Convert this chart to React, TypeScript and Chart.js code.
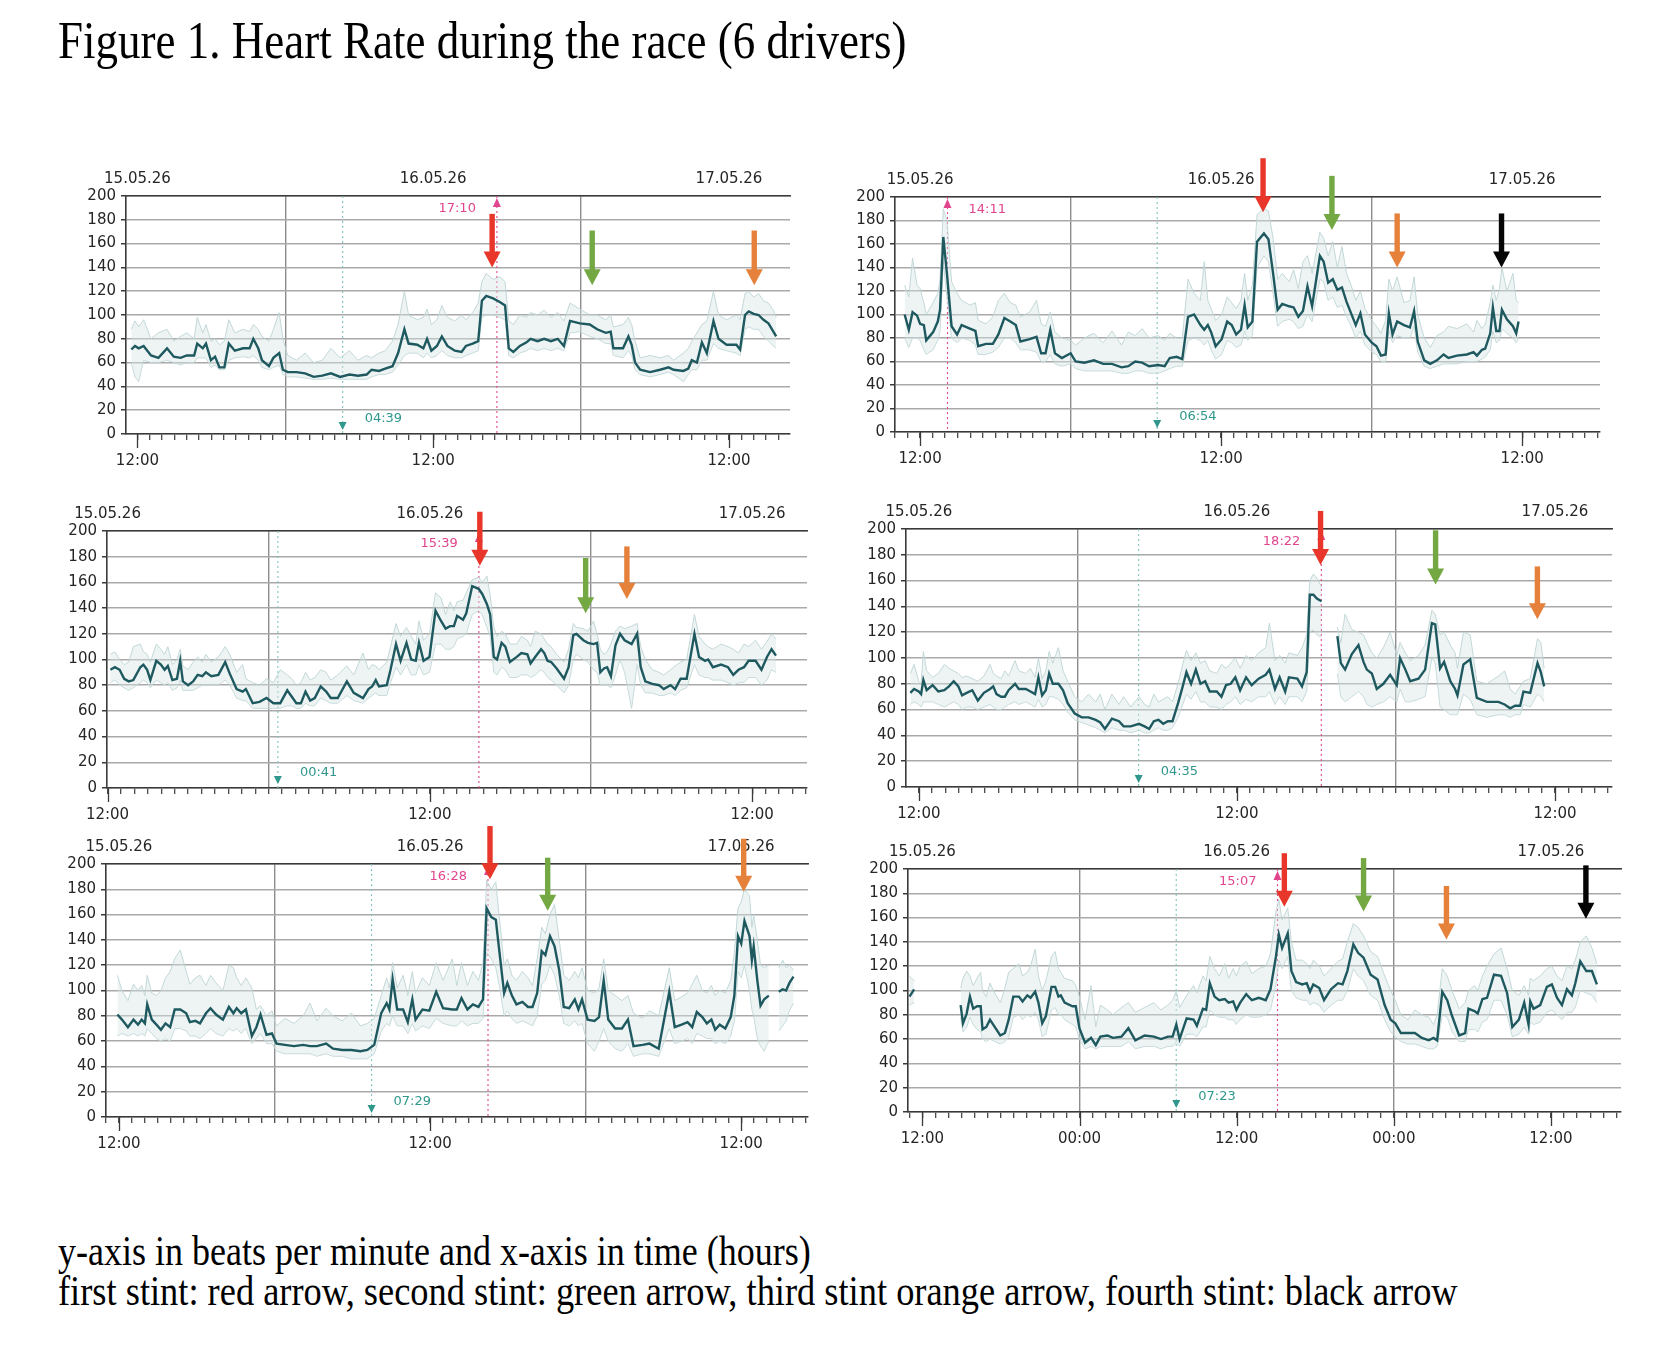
import React, { useEffect, useRef } from "react";
import { Chart, registerables } from "chart.js";
Chart.register(...registerables);

// ---------- shared labels ----------
const DATE_LABELS = ["15.05.26", "16.05.26", "17.05.26"];
const DATE_TICKS = [12, 36, 60]; // hours after 15.05.26 00:00
const NOON_LABEL = "12:00";
const MIDNIGHT_LABEL = "00:00";
const TITLE = "Figure 1. Heart Rate during the race (6 drivers)";
const CAPTION_1 = "y-axis in beats per minute and x-axis in time (hours)";
const CAPTION_2 = "first stint: red arrow, second stint: green arrow, third stint orange arrow, fourth stint: black arrow";

// ---------- panel 1 ----------
const P1_T = [11.5, 11.8, 12.1, 12.5, 13.1, 13.7, 14.4, 14.95, 15.5, 16.0, 16.6, 16.85, 17.3, 17.56, 17.96, 18.3, 18.65, 19.05, 19.41, 19.9, 20.57, 21.1, 21.4, 21.8, 22.1, 22.67, 23.03, 23.5, 23.8, 24.2, 24.9, 25.6, 26.3, 27.0, 27.7, 28.45, 29.2, 29.9, 30.6, 31.0, 31.6, 32.1, 32.7, 33.15, 33.66, 34.0, 34.7, 35.2, 35.5, 35.85, 36.3, 36.7, 37.15, 37.75, 38.3, 38.65, 39.2, 39.65, 39.95, 40.3, 40.86, 41.4, 41.83, 42.13, 42.5, 43.03, 43.57, 43.9, 44.47, 45.0, 45.55, 46.1, 46.6, 47.1, 47.9, 48.7, 49.3, 50.0, 50.4, 50.62, 51.4, 51.84, 52.1, 52.38, 52.79, 53.6, 54.4, 55.1, 55.5, 56.3, 56.7, 56.98, 57.4, 57.8, 58.2, 58.74, 59.15, 59.8, 60.6, 60.9, 61.3, 61.6, 62.0, 62.4, 62.8, 63.2, 63.6, 63.83];
const P1_HR = [71, 74, 72, 74, 66, 64, 72, 65, 64, 66, 66, 76, 72, 76, 62, 65, 56, 56, 76, 70, 72, 72, 80, 72, 62, 57, 64, 68, 54, 52, 52, 51, 48, 49, 51, 48, 50, 49, 50, 54, 53, 55, 57, 68, 88, 76, 75, 72, 80, 70, 74, 82, 74, 70, 69, 74, 76, 78, 112, 116, 114, 111, 108, 72, 69, 74, 77, 80, 78, 80, 78, 80, 74, 95, 93, 92, 88, 85, 86, 72, 72, 82, 75, 60, 54, 52, 54, 56, 54, 53, 55, 62, 60, 77, 68, 95, 80, 75, 75, 71, 100, 103, 101, 100, 96, 93, 86, 82];
const P1_LO = [60, 48, 44, 62, 60, 60, 62, 60, 58, 60, 60, 64, 64, 64, 56, 58, 54, 54, 62, 64, 65, 64, 66, 62, 56, 54, 56, 58, 50, 48, 48, 47, 46, 46, 47, 46, 46, 46, 46, 48, 50, 50, 52, 58, 66, 68, 68, 64, 68, 64, 66, 70, 66, 64, 64, 66, 68, 70, 98, 100, 100, 98, 96, 66, 64, 68, 70, 72, 70, 72, 70, 72, 70, 85, 86, 82, 80, 76, 76, 66, 64, 70, 66, 54, 50, 48, 50, 52, 50, 44, 50, 54, 54, 62, 62, 76, 72, 70, 68, 66, 88, 90, 88, 88, 82, 78, 74, 72];
const P1_HI = [88, 95, 90, 96, 80, 85, 88, 78, 82, 85, 80, 98, 85, 92, 78, 80, 75, 78, 96, 85, 88, 86, 92, 88, 82, 78, 88, 102, 80, 66, 62, 68, 60, 62, 72, 64, 70, 62, 66, 64, 68, 70, 78, 92, 120, 100, 96, 98, 105, 92, 96, 108, 98, 95, 100, 96, 102, 110, 128, 135, 130, 132, 128, 95, 92, 100, 98, 102, 100, 104, 98, 102, 95, 110, 105, 100, 100, 96, 100, 90, 92, 98, 92, 78, 64, 66, 64, 66, 62, 68, 72, 78, 85, 92, 95, 120, 100, 96, 100, 96, 118, 120, 115, 118, 112, 110, 104, 98];
const P1_ARROW_T = [40.78, 48.9, 62.05];
const P1_ARROW_FROM = [185, 171, 171];
const P1_ARROW_TO = [140, 125, 125];
const P1_ARROW_STINT = [0, 1, 2];

// ---------- panel 2 ----------
const P2_T = [10.77, 11.1, 11.4, 11.76, 12.0, 12.3, 12.49, 13.04, 13.41, 13.59, 13.85, 14.14, 14.51, 14.95, 15.31, 15.97, 16.41, 16.63, 17.25, 17.8, 18.24, 18.72, 19.19, 19.63, 20.0, 20.73, 21.28, 21.65, 22.0, 22.38, 22.75, 23.3, 24.0, 24.4, 25.1, 25.86, 26.6, 27.3, 28.06, 28.6, 29.15, 29.7, 30.25, 30.98, 31.5, 31.9, 32.45, 32.9, 33.36, 33.84, 34.35, 34.65, 34.94, 35.2, 35.56, 36.04, 36.48, 36.84, 37.2, 37.58, 37.87, 38.12, 38.49, 38.86, 39.41, 39.77, 40.14, 40.5, 40.87, 41.42, 41.78, 42.15, 42.52, 42.88, 43.25, 43.87, 44.17, 44.53, 44.9, 45.26, 45.63, 45.99, 46.36, 46.73, 47.1, 47.46, 48.01, 48.38, 48.74, 49.11, 49.37, 49.66, 50.03, 50.57, 51.05, 51.38, 51.67, 52.19, 52.67, 53.2, 53.73, 54.12, 54.79, 55.59, 56.12, 56.39, 56.79, 57.05, 57.45, 57.66, 57.93, 58.19, 58.38, 58.78, 59.26, 59.52, 59.71];
const P2_HR = [100, 87, 102, 99, 92, 91, 78, 85, 94, 104, 166, 135, 90, 83, 91, 88, 86, 73, 75, 75, 83, 97, 94, 91, 77, 79, 81, 67, 67, 87, 67, 63, 67, 60, 59, 61, 58, 58, 55, 56, 60, 59, 56, 57, 56, 63, 64, 62, 98, 100, 91, 87, 91, 85, 73, 79, 94, 91, 83, 87, 108, 89, 94, 162, 169, 164, 135, 104, 109, 107, 106, 98, 103, 124, 107, 150, 145, 127, 130, 121, 123, 111, 101, 91, 101, 83, 76, 73, 65, 66, 101, 83, 94, 91, 89, 103, 77, 61, 58, 61, 66, 63, 65, 66, 68, 65, 70, 71, 84, 106, 86, 86, 104, 96, 90, 84, 94];
const P2_LO = [80, 72, 80, 80, 78, 70, 66, 70, 78, 86, 145, 115, 80, 76, 80, 78, 74, 66, 66, 68, 72, 80, 80, 76, 70, 70, 68, 60, 60, 66, 58, 56, 58, 54, 52, 52, 52, 52, 50, 50, 52, 52, 50, 50, 52, 54, 56, 56, 78, 80, 78, 74, 78, 70, 62, 66, 78, 76, 72, 74, 86, 78, 82, 140, 150, 145, 118, 90, 94, 96, 94, 88, 90, 100, 94, 130, 128, 112, 115, 106, 108, 98, 90, 80, 86, 74, 68, 66, 60, 60, 86, 76, 82, 80, 80, 90, 68, 56, 54, 56, 58, 58, 58, 60, 60, 60, 62, 64, 70, 86, 76, 78, 88, 84, 80, 76, 80];
const P2_HI = [125, 115, 148, 125, 122, 110, 100, 110, 118, 130, 190, 180, 128, 118, 112, 108, 110, 95, 92, 98, 112, 118, 110, 108, 98, 102, 112, 92, 90, 102, 85, 80, 78, 74, 80, 84, 76, 86, 74, 85, 82, 88, 80, 82, 78, 84, 80, 80, 130, 118, 112, 145, 112, 105, 95, 100, 115, 110, 105, 112, 135, 112, 125, 185, 190, 188, 165, 130, 135, 128, 138, 122, 145, 150, 135, 170, 165, 150, 162, 140, 158, 135, 125, 112, 120, 105, 95, 90, 84, 95, 130, 120, 132, 110, 112, 132, 100, 80, 72, 82, 85, 90, 88, 92, 85, 95, 88, 92, 110, 125, 112, 122, 140, 120, 135, 112, 110];
const P2_ARROW_T = [39.34, 44.83, 50.03, 58.35];
const P2_ARROW_FROM = [233, 218, 186, 186];
const P2_ARROW_TO = [187, 172, 140, 140];
const P2_ARROW_STINT = [0, 1, 2, 3];

// ---------- panel 3 ----------
const P3_T = [12.21, 12.55, 12.9, 13.24, 13.58, 13.92, 14.44, 14.67, 14.95, 15.19, 15.63, 15.97, 16.25, 16.49, 16.83, 17.17, 17.41, 17.61, 18.0, 18.37, 18.71, 19.05, 19.32, 19.73, 20.25, 20.76, 21.1, 21.61, 22.06, 22.3, 22.81, 23.32, 23.84, 24.35, 24.86, 25.38, 25.72, 26.06, 26.4, 26.74, 27.09, 27.43, 27.87, 28.28, 28.62, 29.14, 29.82, 30.33, 31.02, 31.43, 31.7, 31.97, 32.21, 32.79, 33.07, 33.48, 33.82, 34.26, 34.61, 34.95, 35.19, 35.53, 35.97, 36.42, 36.83, 37.17, 37.51, 37.79, 38.03, 38.47, 38.71, 39.15, 39.63, 39.9, 40.25, 40.49, 40.76, 41.0, 41.34, 41.62, 41.96, 42.47, 42.81, 43.26, 43.5, 43.84, 44.28, 44.52, 44.76, 45.03, 45.44, 45.99, 46.33, 46.68, 46.91, 47.43, 47.77, 48.18, 48.45, 48.69, 48.96, 49.2, 49.48, 49.82, 50.16, 50.5, 51.02, 51.43, 51.7, 52.04, 52.56, 53.07, 53.41, 53.92, 54.26, 54.67, 55.12, 55.7, 56.04, 56.49, 56.72, 57.07, 57.68, 58.2, 58.59, 58.98, 59.39, 59.73, 60.25, 60.69, 61.1, 61.44, 61.77];
const P3_HR = [92, 94, 92, 85, 83, 84, 94, 96, 92, 84, 99, 96, 92, 95, 84, 85, 99, 83, 80, 83, 88, 87, 90, 87, 88, 98, 89, 77, 75, 77, 66, 67, 70, 66, 66, 76, 71, 66, 66, 75, 68, 70, 79, 75, 70, 70, 83, 74, 70, 77, 79, 84, 79, 80, 92, 112, 99, 113, 100, 99, 113, 99, 102, 138, 130, 124, 126, 126, 134, 131, 136, 157, 155, 151, 143, 135, 102, 100, 113, 110, 98, 102, 105, 104, 97, 102, 108, 105, 99, 98, 93, 85, 94, 119, 120, 115, 113, 112, 113, 90, 93, 94, 87, 111, 120, 115, 112, 120, 94, 83, 81, 80, 77, 80, 77, 85, 85, 120, 102, 99, 100, 94, 96, 94, 88, 92, 94, 99, 99, 92, 102, 108, 103];
const P3_LO = [82, 84, 80, 78, 76, 78, 82, 84, 82, 78, 84, 82, 80, 82, 76, 78, 84, 76, 76, 76, 78, 80, 80, 80, 80, 84, 80, 70, 68, 68, 62, 62, 62, 62, 62, 64, 64, 62, 62, 66, 64, 64, 70, 68, 66, 66, 72, 68, 66, 70, 72, 74, 72, 72, 82, 94, 88, 96, 88, 88, 96, 88, 90, 112, 112, 108, 108, 110, 116, 118, 120, 135, 138, 135, 125, 118, 90, 88, 94, 92, 86, 86, 88, 88, 86, 88, 92, 90, 86, 84, 80, 74, 80, 100, 104, 100, 98, 92, 90, 80, 80, 80, 78, 88, 100, 90, 62, 96, 80, 74, 74, 72, 72, 74, 72, 76, 78, 96, 88, 86, 86, 84, 84, 82, 80, 82, 82, 86, 86, 80, 84, 92, 90];
const P3_HI = [104, 106, 100, 96, 98, 110, 112, 106, 104, 98, 112, 108, 104, 110, 96, 100, 108, 95, 92, 98, 102, 98, 104, 98, 102, 110, 104, 90, 96, 85, 82, 80, 85, 82, 92, 88, 85, 80, 82, 90, 84, 86, 92, 90, 84, 88, 95, 88, 105, 92, 96, 95, 92, 98, 110, 128, 118, 125, 118, 112, 130, 115, 120, 152, 148, 135, 145, 138, 145, 146, 152, 162, 164, 160, 165, 150, 125, 118, 122, 120, 112, 112, 118, 115, 110, 122, 120, 116, 112, 110, 104, 98, 108, 128, 125, 124, 122, 130, 120, 108, 104, 106, 112, 122, 126, 124, 126, 128, 110, 100, 92, 90, 88, 92, 95, 98, 100, 135, 118, 112, 110, 108, 112, 110, 108, 105, 112, 110, 115, 108, 114, 120, 116];
const P3_ARROW_T = [39.72, 47.6, 50.67];
const P3_ARROW_FROM = [215, 179, 188];
const P3_ARROW_TO = [173, 136, 147];
const P3_ARROW_STINT = [0, 1, 2];

// ---------- panel 4 ----------
const P4_T = [11.36, 11.64, 11.99, 12.17, 12.34, 12.59, 13.04, 13.47, 13.92, 14.27, 14.63, 14.98, 15.26, 15.61, 16.03, 16.45, 16.91, 17.37, 17.61, 17.86, 18.21, 18.49, 18.77, 19.26, 19.54, 20.07, 20.42, 20.77, 21.02, 21.3, 21.58, 21.83, 22.11, 22.53, 22.88, 23.23, 23.76, 24.29, 24.81, 25.34, 25.69, 26.04, 26.57, 27.1, 27.45, 27.98, 28.61, 29.03, 29.38, 29.73, 30.08, 30.44, 30.79, 31.14, 31.56, 31.91, 32.19, 32.54, 32.9, 33.25, 33.6, 33.95, 34.48, 34.83, 35.18, 35.53, 35.88, 36.24, 36.69, 37.11, 37.64, 38.17, 38.45, 38.87, 39.22, 39.64, 39.92, 40.56, 40.91, 41.26, 41.5, 41.77, 42.03, 42.38, 43.0, 43.58, 43.84, 44.16, 44.67, 45.17, 45.55, 45.8, 46.18, 46.55, 47.05, 47.56, 48.06, 48.31, 48.71, 49.07, 49.7, 50.2, 50.71, 50.96, 51.33, 51.63, 52.1, 52.46, 52.64, 53.09, 53.6, 54.1, 54.86, 55.73, 56.2, 56.62, 56.99, 57.37, 57.62, 58.13, 58.68, 58.93, 59.18];
const P4_HR = [73, 76, 74, 72, 83, 75, 79, 74, 75, 78, 82, 78, 71, 73, 75, 67, 73, 76, 78, 72, 70, 70, 75, 80, 76, 76, 74, 72, 85, 71, 75, 88, 80, 80, 75, 65, 57, 54, 54, 52, 50, 45, 53, 51, 47, 47, 49, 47, 45, 51, 52, 49, 51, 51, 65, 78, 89, 80, 91, 80, 82, 74, 74, 70, 79, 80, 85, 75, 85, 79, 84, 87, 91, 76, 85, 74, 85, 84, 78, 89, 149, 149, 146, 144, null, 117, 96, 91, 103, 110, 97, 91, 88, 76, 80, 87, 79, 100, 91, 82, 84, 91, 127, 126, 92, 97, 82, 76, 71, 95, 99, 69, 66, 66, 64, 61, 63, 63, 74, 73, 96, 89, 78];
const P4_LO = [64, 66, 64, 62, 66, 66, 66, 64, 62, 64, 66, 64, 60, 62, 62, 60, 62, 64, 62, 60, 60, 62, 64, 66, 64, 66, 64, 62, 68, 62, 64, 70, 70, 68, 64, 58, 52, 50, 48, 46, 44, 42, 46, 44, 44, 42, 44, 42, 42, 44, 46, 44, 44, 46, 54, 64, 72, 68, 74, 66, 66, 62, 62, 60, 64, 66, 70, 64, 68, 66, 70, 70, 74, 64, 70, 64, 70, 70, 66, 74, 120, 122, 118, 116, null, 88, 70, 66, 70, 74, 70, 64, 62, 64, 66, 70, 66, 76, 66, 66, 68, 70, 100, 96, 62, 60, 56, 56, 56, 72, 68, 56, 54, 56, 56, 54, 56, 56, 64, 62, 72, 70, 66];
const P4_HI = [88, 95, 82, 80, 105, 90, 85, 88, 95, 92, 90, 88, 85, 86, 84, 82, 86, 95, 88, 86, 84, 90, 86, 98, 90, 88, 92, 85, 100, 84, 90, 105, 96, 108, 90, 82, 70, 66, 72, 66, 72, 60, 72, 64, 70, 62, 70, 64, 62, 72, 66, 68, 70, 66, 80, 95, 106, 98, 104, 96, 98, 90, 88, 95, 92, 96, 100, 92, 102, 98, 104, 108, 127, 98, 102, 96, 104, 102, 108, 118, 160, 165, 162, 155, null, 124, 112, 134, 122, 120, 118, 112, 104, 100, 108, 120, 102, 112, 104, 98, 102, 110, 137, 134, 118, 120, 110, 104, 92, 120, 118, 82, 80, 86, 90, 76, 72, 78, 82, 84, 115, 112, 92];
const P4_ARROW_T = [42.31, 50.99, 58.67];
const P4_ARROW_FROM = [214, 199, 171];
const P4_ARROW_TO = [172, 157, 130];
const P4_ARROW_STINT = [0, 1, 2];

// ---------- panel 5 ----------
const P5_T = [11.88, 12.23, 12.69, 13.12, 13.47, 13.75, 14.0, 14.18, 14.53, 14.89, 15.24, 15.59, 15.95, 16.3, 16.73, 17.19, 17.47, 17.89, 18.25, 18.71, 19.06, 19.49, 20.02, 20.48, 20.83, 21.08, 21.43, 21.79, 22.25, 22.6, 22.92, 23.38, 23.8, 24.16, 24.79, 25.5, 26.21, 26.74, 27.27, 27.98, 28.51, 29.22, 29.93, 30.63, 31.16, 31.69, 32.23, 32.65, 32.86, 33.11, 33.46, 33.92, 34.28, 34.63, 34.88, 35.41, 35.94, 36.47, 37.0, 37.71, 38.06, 38.42, 38.88, 39.3, 39.73, 40.08, 40.36, 40.72, 41.07, 41.32, 41.71, 41.96, 42.31, 42.66, 43.12, 43.55, 43.9, 44.26, 44.61, 44.89, 45.25, 45.6, 45.96, 46.31, 46.73, 47.16, 47.44, 47.72, 48.15, 48.68, 49.03, 49.39, 49.74, 50.27, 50.8, 51.26, 51.69, 52.39, 52.92, 53.63, 54.45, 54.87, 55.4, 55.86, 56.22, 56.57, 57.0, 57.35, 57.7, 57.99, 58.34, 58.77, 59.19, 59.47, 59.75, 60.0, 60.25, 60.64, 60.82, 60.96, 61.24, 61.49, 61.77, 62.13, 62.5, 62.9, 63.2, 63.46, 63.72, 64.03];
const P5_HR = [81, 77, 71, 77, 73, 77, 74, 89, 77, 73, 69, 74, 71, 85, 85, 82, 75, 76, 74, 82, 86, 81, 77, 87, 82, 86, 82, 85, 64, 71, 81, 65, 66, 58, 57, 56, 57, 56, 56, 58, 54, 53, 53, 52, 53, 57, 82, 90, 85, 109, 85, 85, 75, 93, 77, 85, 84, 99, 86, 85, 85, 94, 85, 89, 87, 93, 165, 158, 156, 133, 98, 106, 96, 89, 91, 87, 87, 98, 131, 128, 143, 135, 116, 87, 86, 93, 85, 93, 77, 76, 79, 108, 77, 70, 70, 77, 56, 57, 58, 54, 99, 71, 73, 75, 71, 83, 79, 74, 77, 69, 73, 70, 79, 96, 143, 137, 155, 143, 124, 135, 108, 88, 93, 96, null, 99, 101, 100, 106, 111];
const P5_LO = [64, 66, 64, 66, 64, 66, 64, 70, 66, 62, 60, 62, 60, 70, 70, 68, 64, 64, 62, 66, 70, 66, 64, 70, 68, 70, 66, 70, 58, 62, 66, 58, 58, 52, 50, 50, 50, 50, 48, 50, 48, 48, 46, 46, 46, 50, 68, 74, 72, 80, 72, 72, 66, 74, 68, 72, 70, 78, 74, 72, 72, 76, 72, 74, 74, 78, 130, 125, 118, 105, 80, 84, 78, 74, 76, 74, 72, 80, 105, 108, 120, 112, 96, 74, 72, 76, 72, 74, 58, 52, 60, 70, 60, 54, 52, 58, 48, 50, 50, 48, 70, 58, 60, 62, 58, 66, 64, 62, 62, 58, 60, 58, 64, 76, 115, 110, 120, 100, 85, 80, 62, 56, 52, 60, null, 68, 72, 76, 84, 90];
const P5_HI = [112, 100, 92, 105, 100, 104, 96, 112, 98, 96, 100, 110, 115, 125, 132, 115, 105, 110, 112, 104, 112, 106, 100, 120, 118, 110, 104, 110, 102, 85, 88, 80, 84, 72, 78, 74, 80, 90, 76, 86, 80, 76, 82, 72, 74, 78, 96, 110, 102, 122, 102, 112, 96, 115, 98, 110, 104, 122, 108, 125, 104, 122, 104, 115, 108, 122, 187, 180, 186, 160, 120, 125, 112, 108, 115, 110, 104, 125, 150, 145, 160, 168, 140, 112, 108, 115, 110, 118, 100, 98, 102, 125, 100, 96, 92, 96, 82, 78, 84, 80, 118, 92, 95, 98, 105, 112, 100, 98, 104, 96, 100, 98, 108, 130, 165, 170, 180, 175, 150, 160, 140, 120, 118, 120, null, 118, 124, 118, 120, 116];
const P5_ARROW_T = [40.62, 45.07, 60.19];
const P5_ARROW_FROM = [230, 205, 220];
const P5_ARROW_TO = [188, 163, 178];
const P5_ARROW_STINT = [0, 1, 2];

// ---------- panel 6 ----------
const P6_T = [11.01, 11.37, 13.0, 14.92, 15.1, 15.38, 15.63, 15.88, 16.17, 16.45, 16.59, 16.88, 17.16, 17.52, 17.95, 18.3, 18.59, 18.94, 19.37, 19.65, 20.01, 20.26, 20.61, 20.86, 21.15, 21.43, 21.86, 22.14, 22.39, 22.57, 22.86, 23.46, 23.71, 23.99, 24.42, 24.88, 25.24, 25.59, 26.13, 26.55, 27.2, 27.73, 28.26, 28.97, 29.68, 30.22, 30.75, 31.11, 31.39, 31.64, 32.18, 32.71, 32.96, 33.42, 33.67, 33.95, 34.31, 34.67, 35.09, 35.38, 35.73, 35.98, 36.27, 36.73, 37.16, 37.69, 38.22, 38.58, 39.0, 39.22, 39.47, 39.9, 40.18, 40.54, 41.0, 41.35, 41.6, 41.85, 42.31, 42.67, 43.2, 43.74, 44.09, 44.45, 44.91, 45.27, 45.69, 46.23, 46.76, 47.3, 47.76, 48.11, 48.54, 49.07, 49.61, 50.14, 50.67, 51.03, 51.31, 51.7, 52.08, 52.45, 52.99, 53.45, 53.7, 54.16, 54.41, 54.77, 55.12, 55.65, 56.19, 56.65, 57.05, 57.55, 57.96, 58.29, 58.42, 58.67, 59.18, 59.69, 60.07, 60.46, 60.84, 61.22, 61.6, 61.86, 62.24, 62.7, 63.13, 63.51];
const P6_HR = [95, 101, null, 88, 73, 81, 95, 85, 87, 87, 68, 70, 76, 70, 63, 65, 76, 95, 95, 91, 96, 94, 99, 90, 73, 79, 103, 103, 95, 96, 90, 87, 87, 69, 57, 61, 55, 62, 63, 61, 62, 69, 59, 63, 62, 60, 62, 62, 72, 60, 77, 76, 71, 85, 84, 106, 95, 92, 93, 90, 91, 84, 90, 97, 92, 94, 92, 101, 128, 146, 135, 147, 116, 107, 105, 106, 99, 105, 102, 92, 101, 106, 105, 116, 138, 131, 127, 113, 109, 88, 76, 73, 65, 65, 65, 61, 59, 61, 59, 99, 92, 79, 63, 65, 85, 83, 81, 93, 94, 113, 112, 98, 70, 76, 90, 72, 91, 85, 88, 103, 105, 94, 88, 101, 96, 106, 124, 116, 116, 105];
const P6_LO = [88, 90, null, 78, 66, 70, 78, 72, 68, 66, 60, 58, 60, 58, 56, 58, 62, 78, 80, 76, 80, 78, 82, 76, 62, 64, 84, 86, 80, 80, 76, 72, 70, 60, 52, 54, 52, 54, 54, 54, 54, 58, 52, 54, 54, 52, 54, 54, 58, 54, 64, 64, 62, 70, 70, 84, 80, 78, 78, 76, 76, 72, 76, 80, 78, 78, 80, 84, 105, 125, 118, 128, 100, 94, 92, 92, 88, 90, 88, 82, 88, 92, 92, 100, 118, 112, 108, 96, 92, 76, 66, 62, 58, 56, 56, 54, 52, 52, 54, 80, 78, 66, 58, 58, 68, 68, 66, 74, 76, 92, 92, 80, 62, 64, 70, 64, 74, 72, 74, 82, 84, 80, 76, 82, 82, 86, 100, 98, 96, 90];
const P6_HI = [112, 108, null, 102, 110, 116, 112, 104, 110, 115, 100, 95, 106, 98, 90, 102, 115, 118, 122, 112, 115, 120, 134, 112, 100, 108, 128, 132, 118, 115, 110, 108, 104, 95, 76, 104, 70, 88, 84, 80, 86, 90, 82, 86, 90, 84, 88, 92, 100, 86, 96, 104, 98, 112, 108, 128, 118, 112, 122, 110, 118, 112, 120, 124, 114, 118, 120, 130, 165, 175, 158, 168, 140, 125, 125, 122, 118, 125, 120, 112, 118, 124, 126, 140, 155, 152, 145, 132, 128, 112, 100, 92, 80, 76, 84, 80, 78, 72, 80, 118, 112, 100, 85, 90, 100, 104, 100, 112, 120, 130, 135, 118, 100, 96, 104, 96, 110, 108, 112, 118, 120, 112, 108, 120, 118, 125, 140, 145, 135, 122];
const P6_ARROW_T = [39.64, 45.69, 52.02, 62.67];
const P6_ARROW_FROM = [213, 209, 186, 203];
const P6_ARROW_TO = [169, 165, 142, 159];
const P6_ARROW_STINT = [0, 1, 2, 3];

// peak (pink) and lowest (teal) markers: [day index, "hh:mm"]
const MAX_MARKS = [[1, "17:10"], [0, "14:11"], [1, "15:39"], [1, "18:22"], [1, "16:28"], [1, "15:07"]];
const MIN_MARKS = [[1, "04:39"], [1, "06:54"], [1, "00:41"], [1, "04:35"], [1, "07:29"], [1, "07:23"]];
const X_RANGES = [[11.07, 64.95], [10.0, 66.2], [11.96, 64.08], [11.03, 64.3], [11.0, 65.15], [10.9, 65.35]];

// ---------- styles / layout ----------
const FONT = '"DejaVu Sans", sans-serif';
const TEXT = "#262626";
const AXIS = "#3a3a3a";
const GRID = "#a9a9a9";
const MIDNIGHT = "#8c8c8c";
const LINE = "#1f5960";
const BAND_FILL = "rgba(214,228,228,0.42)";
const BAND_EDGE = "rgba(190,212,212,0.9)";
const PINK = "#e0458e";
const TEAL = "#2f978c";
const TEAL_LINE = "#7fc3bc";
const STINT_COLORS = ["#e8372a", "#73a843", "#e5813b", "#050505"];
const AX_LEFT = 60;
const AX_TOP = 62;
const AX_BOTTOM = 42;
const PAD_RIGHT = 14;
// chart areas (page px)
const BOXES = [
  { L: 126, T: 196, R: 790, B: 434 },
  { L: 895, T: 197, R: 1600, B: 432 },
  { L: 107, T: 531, R: 807, B: 788 },
  { L: 906, T: 529, R: 1612, B: 787 },
  { L: 106, T: 864, R: 808, B: 1117 },
  { L: 908, T: 869, R: 1621, B: 1112 },
];

type Panel = {
  t: number[]; hr: (number | null)[]; lo: (number | null)[]; hi: (number | null)[];
  at: number[]; af: number[]; ato: number[]; as: number[];
  range: number[]; max: any[]; min: any[]; maxRight: boolean; midnightLabels: boolean;
  box: { L: number; T: number; R: number; B: number };
};

const RAW = [
  [P1_T, P1_HR, P1_LO, P1_HI, P1_ARROW_T, P1_ARROW_FROM, P1_ARROW_TO, P1_ARROW_STINT],
  [P2_T, P2_HR, P2_LO, P2_HI, P2_ARROW_T, P2_ARROW_FROM, P2_ARROW_TO, P2_ARROW_STINT],
  [P3_T, P3_HR, P3_LO, P3_HI, P3_ARROW_T, P3_ARROW_FROM, P3_ARROW_TO, P3_ARROW_STINT],
  [P4_T, P4_HR, P4_LO, P4_HI, P4_ARROW_T, P4_ARROW_FROM, P4_ARROW_TO, P4_ARROW_STINT],
  [P5_T, P5_HR, P5_LO, P5_HI, P5_ARROW_T, P5_ARROW_FROM, P5_ARROW_TO, P5_ARROW_STINT],
  [P6_T, P6_HR, P6_LO, P6_HI, P6_ARROW_T, P6_ARROW_FROM, P6_ARROW_TO, P6_ARROW_STINT],
];

const PANELS: Panel[] = RAW.map((r: any, i) => ({
  t: r[0], hr: r[1], lo: r[2], hi: r[3], at: r[4], af: r[5], ato: r[6], as: r[7],
  range: X_RANGES[i], max: MAX_MARKS[i], min: MIN_MARKS[i],
  maxRight: i === 1, midnightLabels: i === 5, box: BOXES[i],
}));

function markHour(m: any[]): number {
  const [hh, mm] = String(m[1]).split(":").map(Number);
  return m[0] * 24 + hh + mm / 60;
}

function pts(t: number[], v: (number | null)[]) {
  return t.map((x, i) => ({ x, y: v[i] }));
}

function PanelChart({ panel }: { panel: Panel }) {
  const ref = useRef<HTMLCanvasElement>(null);
  const { L, T, R, B } = panel.box;
  const W = R - L + AX_LEFT + PAD_RIGHT;
  const H = B - T + AX_TOP + AX_BOTTOM;

  useEffect(() => {
    const canvas = ref.current;
    if (!canvas) return;
    const [xmin, xmax] = panel.range;
    const hours: number[] = [];
    for (let h = Math.ceil(xmin); h <= Math.floor(xmax); h++) hours.push(h);
    const maxT = markHour(panel.max);
    const minT = markHour(panel.min);

    const annot = {
      id: "annot",
      beforeDatasetsDraw(chart: any) {
        const { ctx, chartArea: ca, scales } = chart;
        const x = scales.x;
        ctx.save();
        ctx.lineWidth = 1.1;
        ctx.setLineDash([2, 3]);
        ctx.strokeStyle = PINK;
        const px = x.getPixelForValue(maxT);
        ctx.beginPath(); ctx.moveTo(px, ca.top); ctx.lineTo(px, ca.bottom); ctx.stroke();
        ctx.strokeStyle = TEAL_LINE;
        const tx = x.getPixelForValue(minT);
        ctx.beginPath(); ctx.moveTo(tx, ca.top); ctx.lineTo(tx, ca.bottom); ctx.stroke();
        ctx.restore();
      },
      afterDraw(chart: any) {
        const { ctx, chartArea: ca, scales } = chart;
        const x = scales.x;
        const y = scales.y;
        ctx.save();
        // long major ticks
        ctx.strokeStyle = AXIS;
        ctx.lineWidth = 1.3;
        hours.forEach((h) => {
          const m = ((h % 24) + 24) % 24;
          if (m === 12 || (panel.midnightLabels && m === 0)) {
            const px = Math.round(x.getPixelForValue(h)) + 0.5;
            ctx.beginPath(); ctx.moveTo(px, ca.bottom); ctx.lineTo(px, ca.bottom + 14); ctx.stroke();
          }
        });
        // markers
        const px = x.getPixelForValue(maxT);
        const tx = x.getPixelForValue(minT);
        ctx.fillStyle = PINK;
        ctx.beginPath();
        ctx.moveTo(px, ca.top + 2); ctx.lineTo(px + 4, ca.top + 11); ctx.lineTo(px - 4, ca.top + 11); ctx.closePath(); ctx.fill();
        ctx.fillStyle = TEAL;
        ctx.beginPath();
        ctx.moveTo(tx, ca.bottom - 4); ctx.lineTo(tx + 4, ca.bottom - 12); ctx.lineTo(tx - 4, ca.bottom - 12); ctx.closePath(); ctx.fill();
        ctx.font = "13px " + FONT;
        ctx.textBaseline = "middle";
        ctx.fillStyle = PINK;
        if (panel.maxRight) { ctx.textAlign = "left"; ctx.fillText(panel.max[1], px + 21, ca.top + 13); }
        else { ctx.textAlign = "right"; ctx.fillText(panel.max[1], px - 21, ca.top + 13); }
        ctx.fillStyle = TEAL;
        ctx.textAlign = "left";
        ctx.fillText(panel.min[1], tx + 22, ca.bottom - 15);
        // stint arrows
        panel.at.forEach((t, i) => {
          const ax = x.getPixelForValue(t);
          const y1 = y.getPixelForValue(panel.af[i]);
          const y2 = y.getPixelForValue(panel.ato[i]);
          const head = 16;
          ctx.fillStyle = STINT_COLORS[panel.as[i]];
          ctx.fillRect(ax - 2.7, y1, 5.4, y2 - head - y1 + 1);
          ctx.beginPath();
          ctx.moveTo(ax - 8.5, y2 - head); ctx.lineTo(ax + 8.5, y2 - head); ctx.lineTo(ax, y2); ctx.closePath(); ctx.fill();
        });
        ctx.restore();
      },
    };

    const tickFont = { family: FONT, size: 15 };
    const chart = new Chart(canvas, {
      type: "line",
      data: {
        datasets: [
          { label: "lo", data: pts(panel.t, panel.lo), borderColor: BAND_EDGE, borderWidth: 1, pointRadius: 0, fill: false, order: 3 },
          { label: "hi", data: pts(panel.t, panel.hi), borderColor: BAND_EDGE, borderWidth: 1, pointRadius: 0, fill: 0, backgroundColor: BAND_FILL, order: 2 },
          { label: "hr", data: pts(panel.t, panel.hr), borderColor: LINE, borderWidth: 2.4, pointRadius: 0, fill: false, order: 1 },
        ],
      } as any,
      options: {
        animation: false,
        responsive: false,
        maintainAspectRatio: false,
        spanGaps: false,
        layout: { padding: { left: 0, right: PAD_RIGHT, top: 0, bottom: 0 } },
        elements: { line: { tension: 0 } },
        plugins: { legend: { display: false }, tooltip: { enabled: false } },
        scales: {
          x: {
            type: "linear", position: "bottom", min: xmin, max: xmax,
            afterBuildTicks: (ax: any) => { ax.ticks = hours.map((v) => ({ value: v })); },
            afterFit: (ax: any) => { ax.height = AX_BOTTOM; },
            ticks: {
              autoSkip: false, maxRotation: 0, minRotation: 0, padding: 12, color: TEXT, font: tickFont,
              callback: (v: any) => {
                const m = ((Math.round(v) % 24) + 24) % 24;
                if (m === 12) return NOON_LABEL;
                if (panel.midnightLabels && m === 0) return MIDNIGHT_LABEL;
                return "";
              },
            },
            grid: {
              drawOnChartArea: true, drawTicks: true, tickLength: 6, tickColor: AXIS, tickWidth: 1.2, lineWidth: 1.4,
              color: (c: any) => (c.tick && ((Math.round(c.tick.value) % 24) + 24) % 24 === 0 ? MIDNIGHT : "rgba(0,0,0,0)"),
            },
            border: { display: true, color: AXIS, width: 1.6 },
          },
          xTop: {
            type: "linear", position: "top", min: xmin, max: xmax,
            afterBuildTicks: (ax: any) => { ax.ticks = DATE_TICKS.map((v) => ({ value: v })); },
            afterFit: (ax: any) => { ax.height = AX_TOP; },
            ticks: {
              autoSkip: false, maxRotation: 0, minRotation: 0, padding: 8, color: TEXT, font: tickFont,
              callback: (v: any) => DATE_LABELS[DATE_TICKS.indexOf(Math.round(v))] || "",
            },
            grid: { display: false, drawOnChartArea: false, drawTicks: false },
            border: { display: true, color: AXIS, width: 1.6 },
          },
          y: {
            min: 0, max: 200,
            afterFit: (ax: any) => { ax.width = AX_LEFT; },
            ticks: { stepSize: 20, padding: 5, color: TEXT, font: tickFont },
            grid: { color: GRID, lineWidth: 1.5, tickLength: 5, tickColor: AXIS, drawTicks: true },
            border: { display: true, color: AXIS, width: 1.6 },
          },
        },
      } as any,
      plugins: [annot],
    });
    return () => chart.destroy();
  }, [panel]);

  return (
    <canvas
      ref={ref}
      width={W}
      height={H}
      style={{ position: "absolute", left: L - AX_LEFT, top: T - AX_TOP, width: W, height: H }}
    />
  );
}

export default function App() {
  const serif = '"Liberation Serif", "Times New Roman", serif';
  const textBase: any = {
    position: "absolute", whiteSpace: "nowrap", color: "#000", fontFamily: serif,
    transform: "scaleY(1.18)", transformOrigin: "0 0",
  };
  return (
    <div style={{ position: "absolute", left: 0, top: 0, width: 1660, height: 1352, background: "#fff", overflow: "hidden" }}>
      <div style={{ ...textBase, left: 58, top: 14, fontSize: 45, lineHeight: "45px" }}>{TITLE}</div>
      {PANELS.map((p, i) => <PanelChart key={i} panel={p} />)}
      <div style={{ ...textBase, left: 58, top: 1230, fontSize: 36, lineHeight: "36px" }}>{CAPTION_1}</div>
      <div style={{ ...textBase, left: 58, top: 1270, fontSize: 36.4, lineHeight: "36px" }}>{CAPTION_2}</div>
    </div>
  );
}
